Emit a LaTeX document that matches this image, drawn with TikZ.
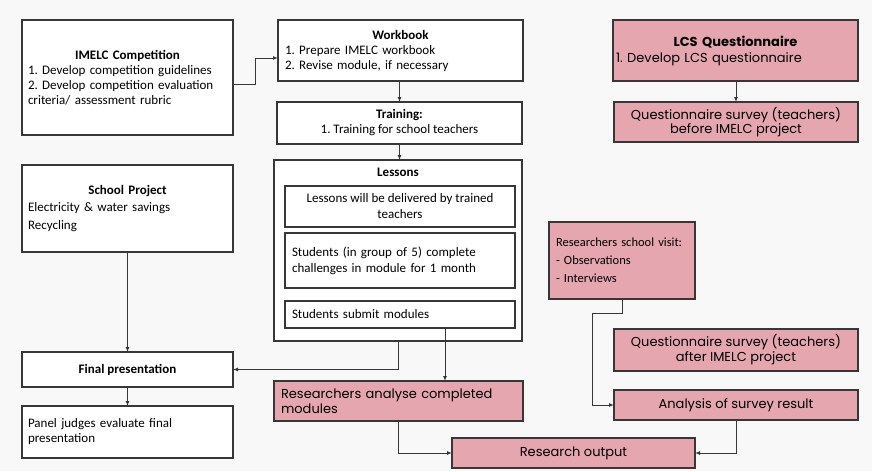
\documentclass[tikz,border=0pt]{standalone}
\usepackage{fontspec}
\setmainfont{Carlito}
\newfontfamily\pop{Poppins}
\usetikzlibrary{arrows.meta}
\frenchspacing
\hyphenpenalty=10000
\definecolor{bg}{RGB}{248,248,248}
\definecolor{pinkbox}{RGB}{229,166,175}
\definecolor{edge}{RGB}{55,55,55}
\tikzset{
  box/.style={draw=edge, line width=1.2pt, fill=white, inner sep=0pt, outer sep=0pt, font=\fontsize{13}{15}\selectfont},
  pbox/.style={draw=edge, line width=1.2pt, fill=pinkbox, inner sep=0pt, outer sep=0pt, font=\pop\fontsize{13}{15}\selectfont},
  arr/.style={draw=edge, line width=1pt, -{Latex[length=5pt,width=4pt]}},
}
\newcommand{\ttl}[1]{\makebox[\linewidth]{\textbf{#1}}}
\begin{document}
\begin{tikzpicture}[x=1pt,y=-1pt]
\useasboundingbox[fill=bg] (0,0) rectangle (872,471);

\node[box, minimum width=211pt, minimum height=115pt, text width=199pt, align=left] (imelc) at (127.5,77.5)
 {\ttl{IMELC Competition}\\1. Develop competition guidelines\\2. Develop competition evaluation\\criteria/ assessment rubric};
\node[box, minimum width=245pt, minimum height=61pt, text width=231pt, align=left] (workbook) at (400.5,50.5)
 {\ttl{Workbook}\\1. Prepare IMELC workbook\\2. Revise module, if necessary};
\node[box, minimum width=245pt, minimum height=42pt, align=center] (training) at (399.5,123)
 {\textbf{Training:}\\1. Training for school teachers};
\node[box, minimum width=248pt, minimum height=181pt] (lessons) at (398,250.5) {};
\node[font=\bfseries\fontsize{13}{15}\selectfont, inner sep=0pt] (lessonsTitle) at (398,172) {Lessons};
\node[box, minimum width=230pt, minimum height=41pt, align=center, font=\fontsize{13}{16}\selectfont] (in1) at (400,206.5)
 {Lessons will be delivered by trained\\teachers};
\node[box, minimum width=230pt, minimum height=55pt, text width=216pt, align=left, font=\fontsize{13}{16}\selectfont] (in2) at (400,260.5)
 {Students (in group of 5) complete\\challenges in module for 1 month};
\node[box, minimum width=230pt, minimum height=27pt, text width=216pt, align=left] (in3) at (400,314.5)
 {Students submit modules};

\node[box, minimum width=211pt, minimum height=87pt, text width=199pt, align=left, font=\fontsize{13}{17.5}\selectfont] (school) at (127.5,208.5)
 {\ttl{School Project}\\Electricity \& water savings\\Recycling};
\node[box, minimum width=211pt, minimum height=35pt, font=\bfseries\fontsize{13}{15}\selectfont] (final) at (127.5,369.5)
 {Final presentation};
\node[box, minimum width=211pt, minimum height=52pt, text width=199pt, align=left] (panel) at (127.5,432)
 {Panel judges evaluate final\\presentation};

\node[pbox, minimum width=249pt, minimum height=40pt, text width=235pt, align=left] (analyse) at (398.5,401)
 {Researchers analyse completed\\modules};
\node[pbox, minimum width=243pt, minimum height=30pt] (output) at (573.5,453)
 {Research output};

\node[pbox, minimum width=245pt, minimum height=61pt, text width=239pt, align=left, font=\pop\fontsize{13}{16}\selectfont] (lcs) at (735.5,50.5)
 {\ttl{LCS Questionnaire}\\1. Develop LCS questionnaire};
\node[pbox, minimum width=244pt, minimum height=40pt, align=center, font=\pop\fontsize{13}{14.5}\selectfont] (qbefore) at (736,122)
 {Questionnaire survey (teachers)\\before IMELC project};
\node[pbox, minimum width=146pt, minimum height=77pt, text width=132pt, align=left, font=\fontsize{12.5}{18}\selectfont] (visit) at (622,260.5)
 {Researchers school visit:\\- Observations\\- Interviews};
\node[pbox, minimum width=244pt, minimum height=42pt, align=center, font=\pop\fontsize{13}{15}\selectfont] (qafter) at (736,350)
 {Questionnaire survey (teachers)\\after IMELC project};
\node[pbox, minimum width=244pt, minimum height=30pt] (analysis) at (736,405)
 {Analysis of survey result};

% connectors
\draw[arr] ([yshift=-6.5pt]imelc.east) -- ++(22,0) |- ([yshift=-7.5pt]workbook.west);
\draw[arr] (workbook.south -| training.north) -- (training.north);
\draw[arr] (training.south) -- (training.south |- lessons.north);
\draw[arr] (lessons.south) |- (final.east);
\draw[arr] ([xshift=45pt]in3.south) -- ([xshift=45pt]in3.south |- analyse.north);
\draw[arr] (analyse.south) |- (output.west);
\draw[arr] (school.south) -- (final.north);
\draw[arr] (final.south) -- (panel.north);
\draw[arr] (lcs.south -| qbefore.north) -- (qbefore.north);
\draw[arr] (visit.south) -- ++(0,14) -- ++(-30,0) |- (analysis.west);
\draw[arr] (analysis.south) |- (output.east);
\end{tikzpicture}
\end{document}
